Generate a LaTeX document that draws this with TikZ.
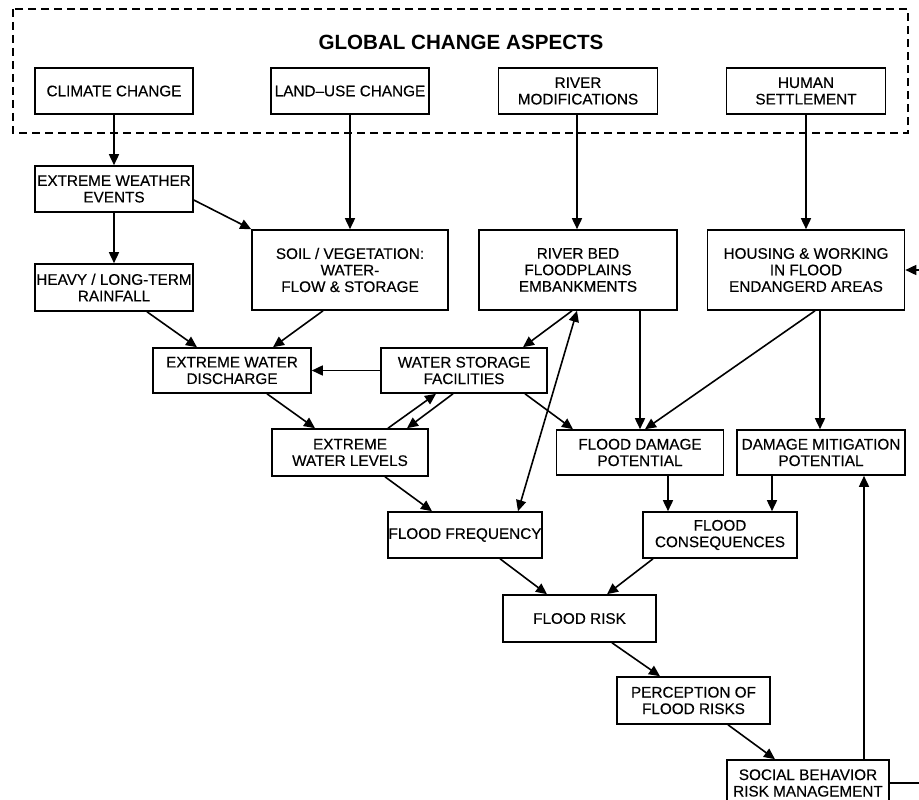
\documentclass[tikz,border=0pt]{standalone}
\usepackage{fontspec}
\setmainfont{Liberation Sans}
\newfontfamily\boxfont[FakeBold=0.35,Ligatures=TeX]{Liberation Sans}
\usetikzlibrary{arrows.meta,positioning}

\begin{document}
\begin{tikzpicture}[x=1pt,y=-1pt, every node/.style={align=center},
 box/.style={draw,line width=1.6pt,inner sep=0pt,minimum width=158pt,minimum height=46pt,
  font=\boxfont\fontsize{15.3}{16.5}\selectfont},
 arr/.style={line width=1.6pt,-{Triangle[length=11pt,width=10pt]}},
 biarr/.style={line width=1.6pt,{Triangle[length=11pt,width=10pt]}-{Triangle[length=11pt,width=10pt]}}]
\useasboundingbox (0,0) rectangle (919,800);
\clip (0,0) rectangle (919,800);
\draw[line width=1.6pt,dash pattern=on 8pt off 5pt] (13,9) rectangle (908,133);
\node[font=\bfseries\fontsize{20.6}{22}\selectfont] (title) at (461,42) {GLOBAL CHANGE ASPECTS};
\node[box] (clim) at (114,91) {CLIMATE CHANGE};
\node[box] (land) at (350,91) {LAND–USE CHANGE};
\node[box,minimum width=159pt] (rmod) at (578,91) {RIVER\\MODIFICATIONS};
\node[box,minimum width=159pt] (hum) at (806,91) {HUMAN\\SETTLEMENT};
\node[box] (ewe) at (114,189) {EXTREME WEATHER\\EVENTS};
\node[box,minimum height=47pt] (heavy) at (114,287.5) {HEAVY / LONG-TERM\\RAINFALL};
\node[box,minimum width=196pt,minimum height=80pt] (soil) at (350,270) {SOIL / VEGETATION:\\WATER-\\FLOW \& STORAGE};
\node[box,minimum width=198pt,minimum height=80pt] (rbed) at (578,270) {RIVER BED\\FLOODPLAINS\\EMBANKMENTS};
\node[box,minimum width=197pt,minimum height=80pt] (hous) at (806,270) {HOUSING \& WORKING\\IN FLOOD\\ENDANGERD AREAS};
\node[box,minimum height=45pt] (ewd) at (232,370.5) {EXTREME WATER\\DISCHARGE};
\node[box,minimum width=166pt,minimum height=45pt] (wsf) at (464,370.5) {WATER STORAGE\\FACILITIES};
\node[box,minimum width=156pt,minimum height=47pt] (ewl) at (350,452.5) {EXTREME\\WATER LEVELS};
\node[box,minimum width=167pt,minimum height=45pt] (fdp) at (640,452.5) {FLOOD DAMAGE\\POTENTIAL};
\node[box,minimum width=168pt,minimum height=45pt] (dmp) at (821,452.5) {DAMAGE MITIGATION\\POTENTIAL};
\node[box,minimum width=154pt] (freq) at (465,535) {FLOOD FREQUENCY};
\node[box,minimum width=154pt] (cons) at (720,535) {FLOOD\\CONSEQUENCES};
\node[box,minimum width=153pt,minimum height=47pt] (risk) at (579.5,618.5) {FLOOD RISK};
\node[box,minimum width=153pt,minimum height=47pt] (perc) at (693.5,700.5) {PERCEPTION OF\\FLOOD RISKS};
\node[box,minimum width=162pt] (soc) at (808,783) {SOCIAL BEHAVIOR\\RISK MANAGEMENT};
\coordinate (back) at (932,783);

\draw[arr] (clim.south) -- (ewe.north);
\draw[arr] (land.south) -- (soil.north);
\draw[arr] ([xshift=-1pt]rmod.south) -- ([xshift=-1pt]rbed.north);
\draw[arr] (hum.south) -- (hous.north);
\draw[arr] (ewe.south) -- (heavy.north);
\draw[arr] ([yshift=-11pt]ewe.east) -- (soil.north west);
\draw[arr] ([xshift=33pt]heavy.south) -- ([xshift=-35pt]ewd.north);
\draw[arr] ([xshift=-27pt]soil.south) -- ([xshift=41pt]ewd.north);
\draw[arr] (wsf.west) -- (ewd.east);
\draw[arr] ([xshift=35pt]ewd.south) -- ([xshift=-35pt]ewl.north);
\draw[arr] ([xshift=38pt]ewl.north) -- ([xshift=-28pt]wsf.south);
\draw[arr] ([xshift=-11pt]wsf.south) -- ([xshift=57pt]ewl.north);
\draw[arr] ([xshift=-6pt]rbed.south) -- ([xshift=59pt]wsf.north);
\draw[biarr] ([xshift=53pt]freq.north) -- ([xshift=-1pt]rbed.south);
\draw[arr] (rbed.south -| fdp.north) -- (fdp.north);
\draw[arr] ([xshift=9pt]hous.south) -- ([xshift=5pt]fdp.north);
\draw[arr] ([xshift=-1pt]dmp.north |- hous.south) -- ([xshift=-1pt]dmp.north);
\draw[arr] ([xshift=61pt]wsf.south) -- ([xshift=-67pt]fdp.north);
\draw[arr] ([xshift=35pt]ewl.south) -- ([xshift=-33pt]freq.north);
\draw[arr] ([xshift=-52pt]cons.north |- fdp.south) -- ([xshift=-52pt]cons.north);
\draw[arr] ([xshift=52pt]cons.north |- dmp.south) -- ([xshift=52pt]cons.north);
\draw[arr] ([xshift=35pt]freq.south) -- ([xshift=-32.5pt]risk.north);
\draw[arr] ([xshift=-67pt]cons.south) -- ([xshift=27.5pt]risk.north);
\draw[arr] ([xshift=32.5pt]risk.south) -- ([xshift=-33.5pt]perc.north);
\draw[arr] ([xshift=34.5pt]perc.south) -- ([xshift=-33pt]soc.north);
\draw[arr] ([xshift=56pt]soc.north) -- ([xshift=56pt]soc.north |- dmp.south);
\draw[arr] (soc.east) -- (back) |- (hous.east);
\end{tikzpicture}
\end{document}
